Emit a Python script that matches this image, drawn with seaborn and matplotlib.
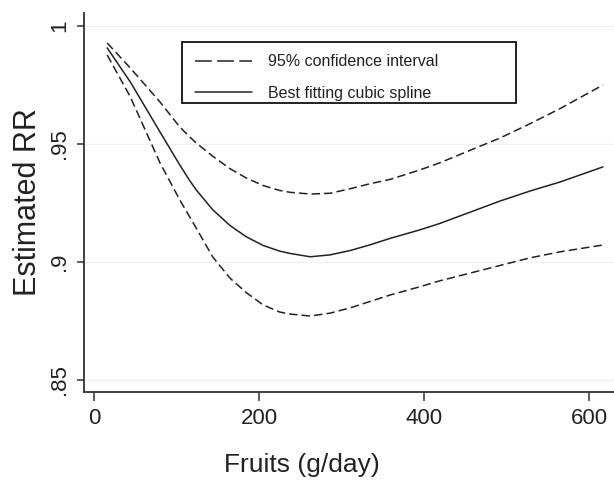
import matplotlib
matplotlib.use("Agg")
import matplotlib.pyplot as plt
from matplotlib.lines import Line2D
from matplotlib.patches import Rectangle
import seaborn as sns
import pandas as pd

# Fruit intake (g/day) and estimated relative risk
fruit = [16, 44, 80, 104, 116, 124, 144, 165, 185, 205, 225, 238,
         262, 286, 310, 334, 359, 395, 419, 492, 528, 565, 617]
upper_ci = [0.9928, 0.9822, 0.9678, 0.9572, 0.9530, 0.9504, 0.9448, 0.9395, 0.9355,
            0.9324, 0.9303, 0.9295, 0.9288, 0.9291, 0.9310, 0.9331, 0.9350, 0.9390,
            0.9420, 0.9525, 0.9585, 0.9650, 0.9750]
spline_rr = [0.9907, 0.9763, 0.9551, 0.9411, 0.9345, 0.9305, 0.9221, 0.9154, 0.9106,
             0.9070, 0.9046, 0.9036, 0.9022, 0.9030, 0.9048, 0.9072, 0.9100, 0.9136,
             0.9163, 0.9258, 0.9300, 0.9339, 0.9403]
lower_ci = [0.9877, 0.9700, 0.9420, 0.9263, 0.9191, 0.9143, 0.9021, 0.8931, 0.8869,
            0.8818, 0.8788, 0.8779, 0.8771, 0.8783, 0.8805, 0.8832, 0.8860, 0.8895,
            0.8920, 0.8985, 0.9017, 0.9043, 0.9072]

x_ticks = [0, 200, 400, 600]
y_ticks = [0.85, 0.90, 0.95, 1.00]
y_tick_labels = [".85", ".9", ".95", "1"]
legend_labels = ["95% confidence interval", "Best fitting cubic spline"]

df = pd.DataFrame({"fruit": fruit, "upper": upper_ci, "rr": spline_rr, "lower": lower_ci})

sns.set_theme(style="white")
plt.rcParams["font.family"] = ["Liberation Sans", "DejaVu Sans"]

ink = "#222222"
fig = plt.figure(figsize=(6.14, 4.84), dpi=100)
ax = fig.add_axes([84 / 614, (484 - 392) / 484, (614 - 84) / 614, (392 - 13) / 484])

dash = (0, (5.5, 2.7))
sns.lineplot(data=df, x="fruit", y="upper", ax=ax, color=ink, linewidth=1.1, linestyle=dash)
sns.lineplot(data=df, x="fruit", y="rr", ax=ax, color=ink, linewidth=1.1)
sns.lineplot(data=df, x="fruit", y="lower", ax=ax, color=ink, linewidth=1.1, linestyle=dash)

ax.set_xlim(-12.1, 630.3)
ax.set_ylim(0.8449, 1.0055)

ax.set_xticks(x_ticks)
ax.set_xticklabels([str(t) for t in x_ticks], fontsize=16, color=ink)
ax.set_yticks(y_ticks)
ax.set_yticklabels(y_tick_labels, fontsize=16, color=ink, rotation=90, va="center")

ax.grid(axis="y", color="#f0f0f0", linewidth=1.0)
ax.grid(axis="x", visible=False)
ax.set_axisbelow(True)

for side in ("top", "right"):
    ax.spines[side].set_visible(False)
for side in ("left", "bottom"):
    ax.spines[side].set_color("#333333")
    ax.spines[side].set_linewidth(1.3)

ax.tick_params(axis="x", direction="out", length=6.5, width=1.1, color="#333333", pad=5, bottom=True)
ax.tick_params(axis="y", direction="out", length=5, width=1.1, color="#333333", pad=5, left=True)

ax.set_xlabel("Fruits (g/day)", fontsize=19, color=ink)
ax.set_ylabel("Estimated RR", fontsize=22, color=ink)
ax.xaxis.set_label_coords((302 - 84) / 530, -0.16)
ax.yaxis.set_label_coords((43 - 84) / 530, 0.5)

# Legend box outline
fig.add_artist(Rectangle((182 / 614, 1 - 103 / 484), 334 / 614, 61 / 484,
                         transform=fig.transFigure, fill=False,
                         edgecolor="#111111", linewidth=1.3))

handles = [
    Line2D([], [], color=ink, linewidth=1.1, linestyle=(0, (11, 3.5))),
    Line2D([], [], color=ink, linewidth=1.1),
]
leg = ax.legend(
    handles, legend_labels,
    loc="center left",
    bbox_to_anchor=(195 / 614, 1 - 77.5 / 484),
    bbox_transform=fig.transFigure,
    borderaxespad=0,
    borderpad=0,
    fontsize=11.5,
    handlelength=3.6,
    handletextpad=1.0,
    labelspacing=1.05,
    frameon=False,
)
for t in leg.get_texts():
    t.set_color(ink)

fig.savefig("out.png", dpi=100)
